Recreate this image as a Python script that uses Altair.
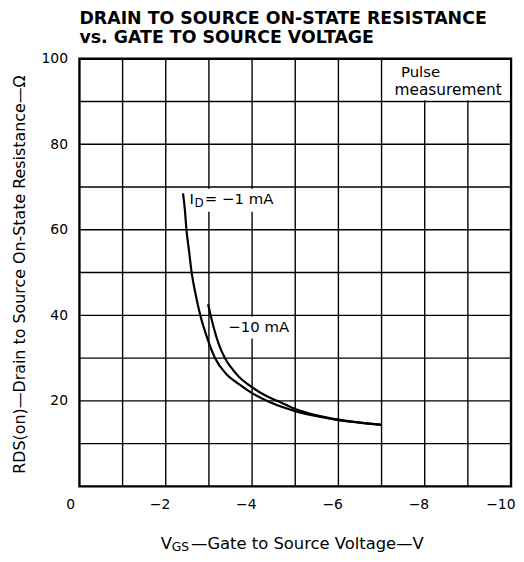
import altair as alt
import pandas as pd

# ---- data ----
vgs_1mA = [2.40, 2.44, 2.48, 2.54, 2.60, 2.69, 2.80, 2.95, 3.14, 3.40, 3.60, 3.78, 4.00, 4.43, 5.00, 5.50, 6.00, 6.50, 7.00]
rds_1mA = [68.5, 65.0, 60.0, 55.0, 50.0, 45.0, 40.0, 35.0, 30.0, 26.3, 24.6, 23.3, 21.8, 19.6, 17.6, 16.4, 15.5, 14.9, 14.4]

vgs_10mA = [2.98, 3.04, 3.12, 3.22, 3.37, 3.50, 3.70, 3.97, 4.30, 4.58, 5.00, 5.50, 6.00, 6.50, 7.00]
rds_10mA = [42.6, 40.0, 36.8, 33.5, 30.0, 28.0, 25.6, 23.4, 21.3, 20.0, 18.1, 16.6, 15.6, 14.9, 14.4]

x_ticks = [0, 2, 4, 6, 8, 10]
y_ticks = [20, 40, 60, 80, 100]
x_grid = [1, 2, 3, 4, 5, 6, 7, 8, 9]
y_grid = [10, 20, 30, 40, 50, 60, 70, 80, 90]

title_lines = ["DRAIN TO SOURCE ON-STATE RESISTANCE", "vs. GATE TO SOURCE VOLTAGE"]
y_title = "RDS(on)\u2014Drain to Source On-State Resistance\u2014\u03a9"

# label background boxes (data units)
box_x = [7.03, 2.60, 3.40]
box_x2 = [9.97, 4.75, 4.85]
box_y = [90.3, 64.2, 34.6]
box_y2 = [99.7, 69.6, 39.7]

FONT = "DejaVu Sans"

curves = pd.DataFrame({
    "vgs": vgs_1mA + vgs_10mA,
    "rds": rds_1mA + rds_10mA,
    "id": ["-1 mA"] * len(vgs_1mA) + ["-10 mA"] * len(vgs_10mA),
})

xs = alt.Scale(domain=[0, 10], nice=False, zero=False)
ys = alt.Scale(domain=[0, 100], nice=False, zero=False)

X_AX = alt.Axis(
    values=x_ticks, title=None, grid=False, ticks=False, domain=False,
    labelExpr="datum.value == 0 ? '0' : '\u2212' + datum.value",
    labelFont=FONT, labelFontSize=14, labelColor="black", labelPadding=11,
    labelAlign="right", labelFlush=False, labelOverlap=False,
    labelOffset={"condition": {"test": "datum.value == 0", "value": -5}, "value": 4},
)
Y_AX = alt.Axis(
    values=y_ticks, grid=False, ticks=False, domain=False,
    labelFont=FONT, labelFontSize=14, labelColor="black", labelPadding=12,
    labelOverlap=False, labelFlush=False,
    title=y_title, titleFont=FONT, titleFontSize=16, titleFontWeight="normal",
    titleColor="black", titleX=-60, titleY=217, titleAngle=270,
    titleAlign="center", titleBaseline="middle",
)

vgrid = alt.Chart(pd.DataFrame({"g": x_grid})).mark_rule(color="black", strokeWidth=1.4).encode(
    x=alt.X("g:Q", scale=xs, axis=X_AX)
)
hgrid = alt.Chart(pd.DataFrame({"g": y_grid})).mark_rule(color="black", strokeWidth=1.4).encode(
    y=alt.Y("g:Q", scale=ys, axis=Y_AX)
)

boxes = alt.Chart(pd.DataFrame({"x": box_x, "x2": box_x2, "y": box_y, "y2": box_y2})).mark_rect(
    color="white"
).encode(
    x=alt.X("x:Q", scale=xs, axis=X_AX), x2="x2:Q",
    y=alt.Y("y:Q", scale=ys, axis=Y_AX), y2="y2:Q",
)

lines = alt.Chart(curves).mark_line(color="black", strokeWidth=2.2, interpolate="monotone").encode(
    x=alt.X("vgs:Q", scale=xs, axis=X_AX),
    y=alt.Y("rds:Q", scale=ys, axis=Y_AX),
    detail="id:N",
)

def txt(x, y, t, size, dx=0, dy=0, align="left"):
    return alt.Chart(pd.DataFrame({"x": [x], "y": [y], "t": [t]})).mark_text(
        align=align, baseline="middle", font=FONT, fontSize=size, color="black", dx=dx, dy=dy
    ).encode(
        x=alt.X("x:Q", scale=xs, axis=X_AX),
        y=alt.Y("y:Q", scale=ys, axis=Y_AX),
        text="t:N",
    )

texts = [
    txt(2.55, 67.3, "I", 15),
    txt(2.55, 67.3, "D", 12, dx=5, dy=4),
    txt(2.55, 67.3, "= \u22121 mA", 15, dx=15.5),
    txt(3.45, 37.2, "\u221210 mA", 15),
    txt(7.45, 97.0, "Pulse", 15),
    txt(7.30, 92.8, "measurement", 15.5),
    txt(5.0, -13.5, "V", 16.5, dx=-135.5),
    txt(5.0, -13.5, "GS", 12.5, dx=-124.5, dy=3),
    txt(5.0, -13.5, "\u2014Gate to Source Voltage\u2014V", 16.5, dx=-105),
]

chart = alt.layer(vgrid, hgrid, boxes, lines, *texts).properties(
    width=435, height=431,
    autosize="none",
    padding={"left": 72, "top": 49, "right": 5, "bottom": 66},
    title=alt.TitleParams(
        title_lines, anchor="start", frame="group", font=FONT, fontSize=17.5, fontWeight="bold",
        color="black", offset=5, lineHeight=19.5,
    ),
).configure(background="white").configure_view(stroke="black", strokeWidth=2.4)

chart.save("out.html", embed_options={"renderer": "svg", "actions": False})
